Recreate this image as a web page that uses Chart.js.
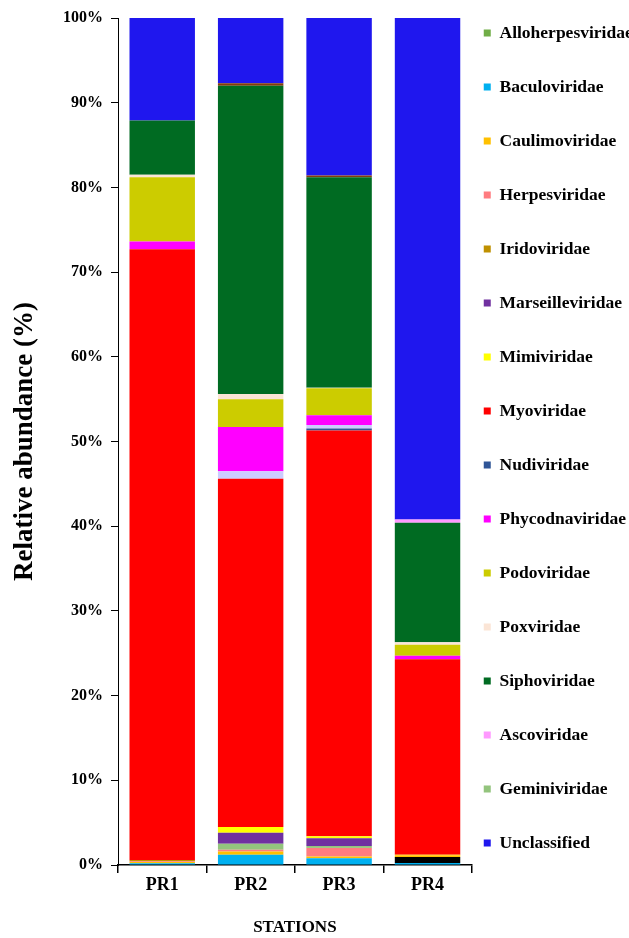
<!DOCTYPE html>
<html>
<head>
<meta charset="utf-8">
<script src="https://cdn.jsdelivr.net/npm/chart.js@4.4.0/dist/chart.umd.min.js"></script>
<style>
  body { margin: 0; background: #fff; }
</style>
</head>
<body>
<canvas id="chart" width="629" height="938"></canvas>
<script>
const stations = ['PR1', 'PR2', 'PR3', 'PR4'];

// order of the entries in the legend (top to bottom)
const legendOrder = ['Alloherpesviridae', 'Baculoviridae', 'Caulimoviridae', 'Herpesviridae', 'Iridoviridae',
  'Marseilleviridae', 'Mimiviridae', 'Myoviridae', 'Nudiviridae', 'Phycodnaviridae', 'Podoviridae',
  'Poxviridae', 'Siphoviridae', 'Ascoviridae', 'Geminiviridae', 'Unclassified'];

// relative abundance (%) per station, PR1..PR4, listed from bottom of the stack upwards
const baculoviridae     = [0.2, 1.2, 0.8, 0.25];
const unlabeledBlack    = [0, 0, 0, 0.7];
const caulimoviridae    = [0.15, 0.4, 0.2, 0.2];
const herpesviridae     = [0.1, 0.2, 1.0, 0];
const iridoviridae      = [0.15, 0, 0, 0];
const alloherpesviridae = [0, 0, 0.05, 0];
const geminiviridae     = [0, 0.7, 0.2, 0];
const marseilleviridae  = [0, 1.3, 0.9, 0];
const mimiviridae       = [0, 0.7, 0.25, 0.05];
const myoviridae        = [72.1, 41.1, 47.9, 23.1];
const nudiviridae       = [0, 0, 0.24, 0];
const unlabeledLavender = [0, 0.9, 0.4, 0];
const phycodnaviridae   = [0.9, 5.2, 1.16, 0.4];
const podoviridae       = [7.6, 3.3, 3.2, 1.3];
const poxviridae        = [0.3, 0.6, 0.05, 0.3];
const siphoviridae      = [6.4, 36.4, 24.85, 14.1];
const unlabeledBrown    = [0, 0.3, 0.2, 0];
const ascoviridae       = [0, 0, 0, 0.4];
const unclassified      = [12.1, 7.7, 18.6, 59.2];

const yTicks = [0, 10, 20, 30, 40, 50, 60, 70, 80, 90, 100];

const series = [
  ['Baculoviridae', baculoviridae, '#00B0F0'],
  ['', unlabeledBlack, '#000000'],
  ['Caulimoviridae', caulimoviridae, '#FFC000'],
  ['Herpesviridae', herpesviridae, '#FF7C80'],
  ['Iridoviridae', iridoviridae, '#BF9000'],
  ['Alloherpesviridae', alloherpesviridae, '#70AD47'],
  ['Geminiviridae', geminiviridae, '#93C47D'],
  ['Marseilleviridae', marseilleviridae, '#7030A0'],
  ['Mimiviridae', mimiviridae, '#FFFF00'],
  ['Myoviridae', myoviridae, '#FF0000'],
  ['Nudiviridae', nudiviridae, '#2F5597'],
  [' ', unlabeledLavender, '#CCCCFF'],
  ['Phycodnaviridae', phycodnaviridae, '#FF00FF'],
  ['Podoviridae', podoviridae, '#CCCC00'],
  ['Poxviridae', poxviridae, '#FBE5D6'],
  ['Siphoviridae', siphoviridae, '#006B22'],
  ['  ', unlabeledBrown, '#843C0C'],
  ['Ascoviridae', ascoviridae, '#FF99FF'],
  ['Unclassified', unclassified, '#1F17EE']
];

const serif = "'Liberation Serif', 'Times New Roman', serif";

// small square markers next to the legend text
const legendMarkers = {
  id: 'legendMarkers',
  afterDraw(chart) {
    const lg = chart.legend;
    if (!lg || !lg.legendItems) return;
    const ctx = chart.ctx;
    lg.legendItems.forEach((item, i) => {
      const hb = lg.legendHitBoxes[i];
      ctx.fillStyle = item.markerColor;
      ctx.fillRect(hb.left, hb.top + hb.height / 2 - 3.5, 7, 7);
    });
  }
};

new Chart(document.getElementById('chart'), {
  type: 'bar',
  data: {
    labels: stations,
    datasets: series.map(([name, values, color]) => ({
      label: name,
      data: values,
      backgroundColor: color,
      borderWidth: 0,
      barPercentage: 0.74,
      categoryPercentage: 1.0
    }))
  },
  options: {
    responsive: false,
    animation: false,
    layout: { padding: { top: 0, left: 0, right: 0, bottom: 0 } },
    plugins: {
      title: { display: true, text: '', padding: 0, font: { size: 15 } },
      tooltip: { enabled: false },
      legend: {
        position: 'right',
        align: 'start',
        labels: {
          boxWidth: 7,
          boxHeight: 42,
          padding: 12,
          color: '#000',
          font: { family: serif, size: 17.5, weight: 'bold' },
          generateLabels(chart) {
            const items = Chart.defaults.plugins.legend.labels.generateLabels(chart);
            return items
              .filter(it => legendOrder.includes(it.text))
              .sort((a, b) => legendOrder.indexOf(a.text) - legendOrder.indexOf(b.text))
              .map(it => Object.assign(it, {
                markerColor: it.fillStyle,
                fillStyle: 'rgba(0,0,0,0)',
                strokeStyle: 'rgba(0,0,0,0)',
                lineWidth: 0
              }));
          }
        }
      }
    },
    scales: {
      x: {
        stacked: true,
        afterFit(scale) { scale.height = 73; },
        grid: { display: true, drawOnChartArea: false, offset: true, tickLength: 8, color: '#000', lineWidth: 1.5 },
        border: { display: true, color: '#000', width: 1.5 },
        ticks: { color: '#000', padding: 2, font: { family: serif, size: 18, weight: 'bold' } },
        title: {
          display: true, text: 'STATIONS', color: '#000', padding: 0,
          font: { family: serif, size: 17, weight: 'bold' }
        }
      },
      y: {
        stacked: true,
        min: 0,
        max: 100,
        afterFit(scale) { scale.width = 118; },
        afterBuildTicks(scale) { scale.ticks = yTicks.map(v => ({ value: v })); },
        grid: { display: true, drawOnChartArea: false, tickLength: 7, color: '#000' },
        border: { display: true, color: '#000', width: 1 },
        ticks: {
          color: '#000', padding: 8,
          font: { family: serif, size: 16, weight: 'bold' },
          callback: v => v + '%'
        },
        title: {
          display: true, text: 'Relative abundance (%)', color: '#000', padding: { top: 9, bottom: 0 },
          font: { family: serif, size: 27, weight: 'bold' }
        }
      }
    }
  },
  plugins: [legendMarkers]
});
</script>
</body>
</html>
